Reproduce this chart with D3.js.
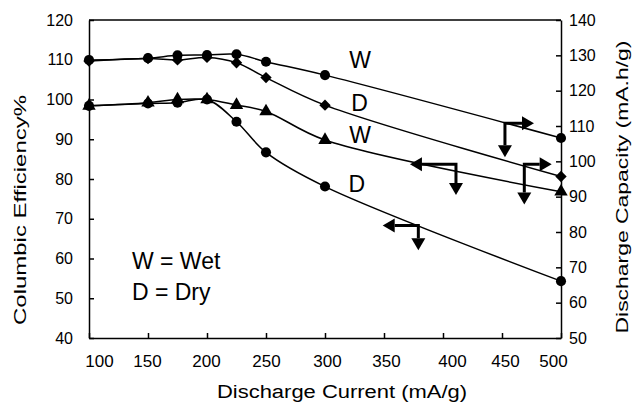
<!DOCTYPE html>
<html>
<head>
<meta charset="utf-8">
<script src="https://cdn.jsdelivr.net/npm/d3@7"></script>
<style>
  body { margin: 0; background: #fff; }
  svg { font-family: "Liberation Sans", Arial, sans-serif; }
  .axis path, .axis line { stroke: #000; stroke-width: 1.5; }
  .axis text { font-size: 16px; fill: #000; }
</style>
</head>
<body>
<div id="chart"></div>
<script>
// values
var current = [100, 150, 175, 200, 225, 250, 300, 500];

// discharge capacity (right axis)
var capWet = [128.7, 129.2, 130.0, 130.1, 130.3, 128.2, 124.4, 106.6];
var capDry = [128.4, 129.1, 128.7, 129.4, 127.9, 123.7, 115.9, 95.7];

// columbic efficiency (left axis)
var effWet = [98.4, 99.2, 100.0, 100.0, 98.6, 97.0, 89.8, 76.8];
var effDry = [98.4, 99.0, 99.2, 100.0, 94.4, 86.7, 78.1, 54.3];

var xTicks = [100, 150, 200, 250, 300, 350, 400, 450, 500];
var leftTicks = [40, 50, 60, 70, 80, 90, 100, 110, 120];
var rightTicks = [50, 60, 70, 80, 90, 100, 110, 120, 130, 140];

// series labels (x, left-axis value)
var seriesLabels = [
  { text: "W", x: 329.7, y: 107.9 },
  { text: "D", x: 329.2, y: 97.1 },
  { text: "W", x: 329.7, y: 89.1 },
  { text: "D", x: 327.0, y: 76.7 }
];

// axis-pointer arrows: corner, horizontal tip, vertical tip (left-axis units)
var arrows = [
  { cx: 452.5, cy: 94.0, hx: 477.1, vy: 85.5 },
  { cx: 411.0, cy: 83.7, hx: 372.0, vy: 76.0 },
  { cx: 468.9, cy: 83.7, hx: 492.1, vy: 73.6 },
  { cx: 379.1, cy: 68.3, hx: 348.9, vy: 62.1 }
];

var W = 632, H = 405;
var margin = { top: 20, right: 71, bottom: 67, left: 89 };
var width = W - margin.left - margin.right,
    height = H - margin.top - margin.bottom;

var svg = d3.select("#chart").append("svg")
    .attr("width", W).attr("height", H);
var g = svg.append("g")
    .attr("transform", "translate(" + margin.left + "," + margin.top + ")");

var x = d3.scaleLinear().domain([100, 500]).range([0, width]);
var yL = d3.scaleLinear().domain([40, 120]).range([height, 0]);
var yR = d3.scaleLinear().domain([50, 140]).range([height, 0]);

// axes, ticks point inward
var labelShift = { 100: 10, 150: -1, 200: -1, 300: 2, 350: 2, 400: 9, 450: 3, 500: -8 };
var xAxis = g.append("g").attr("class", "axis")
    .attr("transform", "translate(0," + height + ")")
    .call(d3.axisBottom(x).tickValues(xTicks).tickSizeInner(-5).tickSizeOuter(0).tickPadding(17));
xAxis.selectAll(".tick text")
    .style("font-size", "17px")
    .attr("dx", function(d) { return labelShift[d] || 0; });

g.append("g").attr("class", "axis")
    .call(d3.axisLeft(yL).tickValues(leftTicks).tickSizeInner(-5).tickSizeOuter(0).tickPadding(16));

g.append("g").attr("class", "axis")
    .attr("transform", "translate(" + width + ",0)")
    .call(d3.axisRight(yR).tickValues(rightTicks).tickSizeInner(-5).tickSizeOuter(0).tickPadding(8));

g.append("line")
    .attr("x1", 0).attr("x2", width).attr("y1", 0).attr("y2", 0)
    .attr("stroke", "#000").attr("stroke-width", 1.5);

// axis titles
svg.append("text")
    .attr("transform", "translate(26,210) rotate(-90)")
    .attr("text-anchor", "middle")
    .attr("font-size", 17)
    .attr("textLength", 230).attr("lengthAdjust", "spacingAndGlyphs")
    .text("Columbic Efficiency%");

svg.append("text")
    .attr("transform", "translate(628,187) rotate(-90)")
    .attr("text-anchor", "middle")
    .attr("font-size", 17)
    .attr("textLength", 293).attr("lengthAdjust", "spacingAndGlyphs")
    .text("Discharge Capacity (mA.h/g)");

svg.append("text")
    .attr("x", 342).attr("y", 398)
    .attr("text-anchor", "middle")
    .attr("font-size", 18)
    .attr("textLength", 250).attr("lengthAdjust", "spacingAndGlyphs")
    .text("Discharge Current (mA/g)");

// lines
var series = [
  { vals: capWet, y: yR, shape: d3.symbolCircle, size: 80, rot: 0 },
  { vals: capDry, y: yR, shape: d3.symbolSquare, size: 64, rot: 45 },
  { vals: effWet, y: yL, shape: d3.symbolTriangle, size: 78, rot: 0 },
  { vals: effDry, y: yL, shape: d3.symbolCircle, size: 80, rot: 0 }
];

series.forEach(function(s) {
  var line = d3.line()
      .x(function(d, i) { return x(current[i]); })
      .y(function(d) { return s.y(d); })
      .curve(d3.curveCatmullRom.alpha(0.5));

  g.append("path")
      .datum(s.vals)
      .attr("fill", "none")
      .attr("stroke", "#000")
      .attr("stroke-width", 1.5)
      .attr("d", line);

  g.selectAll(null)
      .data(s.vals)
      .enter().append("path")
      .attr("d", d3.symbol().type(s.shape).size(s.size))
      .attr("transform", function(d, i) {
        return "translate(" + x(current[i]) + "," + s.y(d) + ") rotate(" + s.rot + ")";
      })
      .attr("fill", "#000");
});

// W / D labels
g.selectAll(".slabel")
    .data(seriesLabels)
    .enter().append("text")
    .attr("class", "slabel")
    .attr("x", function(d) { return x(d.x); })
    .attr("y", function(d) { return yL(d.y); })
    .attr("text-anchor", "middle")
    .attr("font-size", 23)
    .text(function(d) { return d.text; });

// legend text
g.append("text")
    .attr("x", x(136.4)).attr("y", yL(57.4))
    .attr("font-size", 23)
    .text("W = Wet");
g.append("text")
    .attr("x", x(136.4)).attr("y", yL(49.6))
    .attr("font-size", 23)
    .text("D = Dry");

// arrows
var head = 12, half = 7;
arrows.forEach(function(a) {
  var cx = x(a.cx), cy = yL(a.cy), hx = x(a.hx), vy = yL(a.vy);
  var dir = hx > cx ? 1 : -1;
  g.append("path")
      .attr("d", "M" + (hx - dir * head) + "," + cy + "H" + cx + "V" + (vy - head))
      .attr("fill", "none")
      .attr("stroke", "#000")
      .attr("stroke-width", 3);
  g.append("path")
      .attr("d", "M" + hx + "," + cy + "L" + (hx - dir * head) + "," + (cy - half) +
                 "L" + (hx - dir * head) + "," + (cy + half) + "Z")
      .attr("fill", "#000");
  g.append("path")
      .attr("d", "M" + cx + "," + vy + "L" + (cx - half) + "," + (vy - head) +
                 "L" + (cx + half) + "," + (vy - head) + "Z")
      .attr("fill", "#000");
});
</script>
</body>
</html>
